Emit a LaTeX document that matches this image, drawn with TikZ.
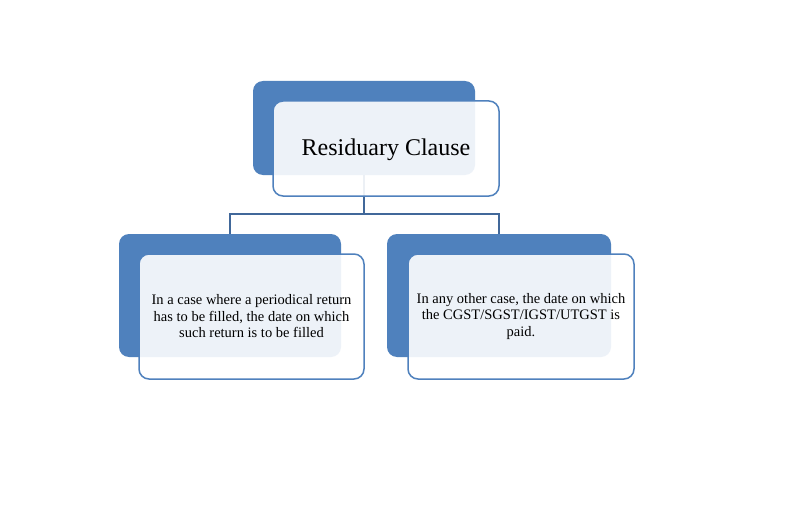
\documentclass[tikz,border=0pt]{standalone}
\usepackage{fontspec}
\setmainfont{Liberation Serif}
\definecolor{blueA}{HTML}{4F81BD}
\definecolor{connC}{HTML}{41689A}
\begin{document}
\begin{tikzpicture}[x=1pt,y=-1pt,
  back/.style={fill=blueA, rounded corners=10pt, inner sep=0pt},
  front/.style={draw=blueA, line width=1.5pt, fill=white, fill opacity=0.9, text opacity=1, rounded corners=10pt, inner sep=0pt, align=center, text=black},
  conn/.style={draw=connC, line width=2pt},
  small/.style={font=\fontsize{14.5}{16.5}\selectfont},
  big/.style={font=\fontsize{24}{27}\selectfont}]
\fill[white] (0,0) rectangle (793,511);
\useasboundingbox (0,0) rectangle (793,511);
% back boxes
\node[back, minimum width=222pt, minimum height=94pt] (topback) at (364,128) {};
\node[back, minimum width=222pt, minimum height=123pt] (leftback) at (230,295.5) {};
\node[back, minimum width=224pt, minimum height=123pt] (rightback) at (499,295.5) {};
% connectors
\coordinate (j) at (365,214);
\draw[conn] (topback.south) -- (topback.south |- j);
\draw[conn] (leftback.north) -- (leftback.north |- j) -- (rightback.north |- j) -- (rightback.north);
% front boxes
\node[front, minimum width=226pt, minimum height=95pt] (topfront) at (386,148.5) {};
\node[big, inner sep=0pt] (toplabel) at (386,150) {Residuary Clause};
\node[front, small, minimum width=225pt, minimum height=125pt] (leftfront) at (251.5,316.5) {In a case where a periodical return\\has to be filled, the date on which\\such return is to be filled};
\node[front, small, minimum width=226pt, minimum height=125pt] (rightfront) at (521,316.5) {In any other case, the date on which\\the CGST/SGST/IGST/UTGST is\\paid.};
\end{tikzpicture}
\end{document}
